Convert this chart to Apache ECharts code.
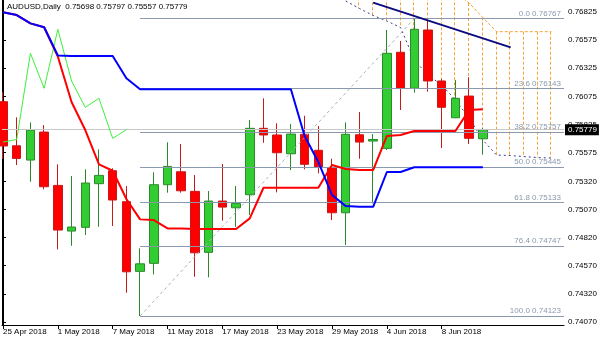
<!DOCTYPE html>
<html><head><meta charset="utf-8">
<script src="https://cdn.jsdelivr.net/npm/echarts@6/dist/echarts.min.js"></script>
<style>html,body{margin:0;padding:0;background:#fff}#c{width:600px;height:343px}</style>
</head><body><div id="c"></div>
<script>
const titleText = 'AUDUSD,Daily  0.75698 0.75797 0.75557 0.75779';
const dates = ['25 Apr 2018','26 Apr 2018','27 Apr 2018','30 Apr 2018','1 May 2018','2 May 2018','3 May 2018','4 May 2018',
  '7 May 2018','8 May 2018','9 May 2018','10 May 2018','11 May 2018','14 May 2018','15 May 2018','16 May 2018',
  '17 May 2018','18 May 2018','21 May 2018','22 May 2018','23 May 2018','24 May 2018','25 May 2018','28 May 2018',
  '29 May 2018','30 May 2018','31 May 2018','1 Jun 2018','4 Jun 2018','5 Jun 2018','6 Jun 2018','7 Jun 2018',
  '8 Jun 2018','11 Jun 2018','12 Jun 2018','13 Jun 2018'];
const opens  = [0.76028,0.75636,0.75509,0.75758,0.75284,0.74878,0.74911,0.75299,0.75414,0.75139,0.74520,0.74591,0.75290,0.75405,0.75231,0.74689,0.75145,0.75085,0.75201,0.75791,0.75732,0.75565,0.75738,0.75596,0.75444,0.75041,0.75734,0.75678,0.75613,0.76467,0.76147,0.76665,0.76212,0.75885,0.76078,0.75698];
const closes = [0.75634,0.75524,0.75776,0.75272,0.74887,0.74914,0.75305,0.75373,0.75154,0.74516,0.74587,0.75290,0.75453,0.75236,0.74685,0.75145,0.75091,0.75124,0.75791,0.75732,0.75574,0.75740,0.75471,0.75444,0.75041,0.75738,0.75669,0.75692,0.76458,0.76147,0.76671,0.76212,0.75978,0.76058,0.75702,0.75779];
const lows   = [0.75518,0.75465,0.75316,0.75249,0.74715,0.74747,0.74843,0.74916,0.74923,0.74330,0.74123,0.74493,0.75219,0.75219,0.74472,0.74467,0.74970,0.74916,0.75020,0.75663,0.75222,0.75420,0.75427,0.75391,0.74976,0.74754,0.75521,0.75124,0.75598,0.75954,0.76108,0.76117,0.75616,0.75882,0.75652,0.75557];
const highs  = [0.76114,0.75889,0.75844,0.75820,0.75471,0.75367,0.75427,0.75604,0.75436,0.75278,0.74724,0.75400,0.75667,0.75652,0.75376,0.75234,0.75474,0.75278,0.75865,0.76058,0.75836,0.75829,0.75903,0.75812,0.75521,0.75844,0.75936,0.75740,0.76665,0.76567,0.76767,0.76754,0.76229,0.76221,0.76245,0.75797];
const tenkan = [0.76822,0.76798,0.76724,0.76689,0.76429,0.76025,0.75776,0.75471,0.75414,0.75163,0.74982,0.74976,0.74902,0.74902,0.74896,0.74896,0.74896,0.74896,0.74991,0.75263,0.75263,0.75263,0.75263,0.75263,0.75465,0.75429,0.75420,0.75420,0.75723,0.75732,0.75767,0.75767,0.75767,0.75767,0.75954,0.75960];
const kijun  = [0.76822,0.76798,0.76724,0.76689,0.76438,0.76434,0.76434,0.76434,0.76434,0.76236,0.76138,0.76138,0.76138,0.76138,0.76138,0.76138,0.76138,0.76138,0.76138,0.76138,0.76138,0.76138,0.75723,0.75492,0.75198,0.75100,0.75094,0.75094,0.75403,0.75403,0.75445,0.75445,0.75445,0.75445,0.75445,0.75445];
const chikou = [0.75669,0.75692,0.76458,0.76147,0.76671,0.76212,0.75978,0.76058,0.75702,0.75779];
const spanStart = 25;
const spanA  = [0.77000,0.77000,0.77000,0.77000,0.77000,0.77000,0.77000,0.77000,0.77000,0.76905,0.76776,0.76650,0.76650,0.76650,0.76650,0.76650];
const spanB  = [0.76923,0.76856,0.76794,0.76745,0.76687,0.76398,0.76265,0.76176,0.76043,0.75883,0.75687,0.75554,0.75549,0.75540,0.75531,0.75527];
const fibLevels = ['0.0','23.6','38.2','50.0','61.8','76.4','100.0'];
const fibPrices = [0.76767,0.76143,0.75757,0.75445,0.75133,0.74747,0.74123];
const fibFrom = [10, 0.74123];
const fibTo = [30, 0.76767];
const trendLine = [[27.0, 0.76908],[37.03, 0.76511]];
const yTicks = [0.76825,0.76575,0.76325,0.76075,0.75825,0.75575,0.75320,0.75070,0.74820,0.74570,0.74320,0.74070];
const xTicks = [0,4,8,12,16,20,24,28,32];
const lastPrice = 0.75779;

const X_MIN = -0.073, X_MAX = 40.92;
const Y_MIN = 0.740433, Y_MAX = 0.769316;
const FONT = 'Liberation Sans';

const candleData = dates.map((d,i)=>[i, opens[i], closes[i], lows[i], highs[i]]);
const kumoData = [];
for (let k = 1; k < spanA.length; k++) kumoData.push([spanStart + k, spanA[k], spanB[k]]);

const chart = echarts.init(document.getElementById('c'), null, {renderer:'canvas'});
chart.setOption({
  animation: false,
  backgroundColor: '#fff',
  title: { text: titleText, left: 7, top: 3, padding: 0,
    textStyle: {fontFamily: FONT, fontSize: 8, fontWeight: 'normal', color: '#000'} },
  grid: { left: 2, right: 36, top: 0, bottom: 18 },
  xAxis: {
    type: 'value', min: X_MIN, max: X_MAX, splitLine: {show:false},
    axisLine: {show: true, onZero: false, lineStyle: {color:'#000', width:1}},
    axisTick: {show: true, customValues: xTicks, length: 4, lineStyle:{color:'#000'}},
    axisLabel: {customValues: xTicks, formatter: v => dates[Math.round(v)] || '', align: 'left', margin: 3,
      fontFamily: FONT, fontSize: 8, color: '#000'}
  },
  yAxis: [{
    type: 'value', position: 'right', min: Y_MIN, max: Y_MAX, scale: true, splitLine: {show:false},
    axisLine: {show: true, lineStyle: {color:'#000'}},
    axisTick: {show: true, customValues: yTicks, length: 3, lineStyle:{color:'#000'}},
    axisLabel: {customValues: yTicks, formatter: v => v.toFixed(5), margin: 4, fontFamily: FONT, fontSize: 8, color: '#000'}
  },{
    type: 'value', position: 'left', min: Y_MIN, max: Y_MAX, scale: true, splitLine: {show:false},
    axisLine: {show: true, lineStyle: {color:'#000'}}, axisTick: {show:false}, axisLabel: {show:false}
  }],
  series: [
    { type: 'line', data: [], z: 1, silent: true,
      markLine: { silent: true, symbol: ['none','none'], animation: false,
        data: fibPrices.map((p,i)=>[
          {coord:[fibFrom[0], p], lineStyle:{color:'#8a99ad', width:1, type:'solid'},
           label:{show:true, position:'insideEndTop', distance:[3,1], formatter: fibLevels[i] + ' ' + p.toFixed(5),
             color:'#8a99ad', fontFamily: FONT, fontSize: 8}},
          {coord:[X_MAX, p]}
        ]).concat([
          [{coord: fibFrom, lineStyle:{color:'#a8b2c0', width:1, type:[3,3]}, label:{show:false}}, {coord: fibTo}],
          [{coord:[X_MIN, lastPrice], lineStyle:{color:'#c8c8c8', width:1, type:'solid'},
            label:{show:true, position:'end', distance:1, formatter: lastPrice.toFixed(5), color:'#fff',
              backgroundColor:'#000', padding:[2,2,1,3], fontFamily: FONT, fontSize: 8}},
           {coord:[X_MAX, lastPrice]}]
        ])
      }
    },
    { type: 'custom', z: 2, clip: true, silent: true,
      data: kumoData, encode: {x: 0, y: [1, 2]},
      renderItem: function(params, api) {
        const x = api.value(0);
        const a = api.coord([x, api.value(1)]);
        const b = api.coord([x, api.value(2)]);
        const px = Math.round(a[0]) - 0.5;
        return {type:'line', shape:{x1:px, y1:a[1], x2:px, y2:b[1]},
          style:{stroke:'#F4A23C', lineWidth:1, lineDash:[3,2]}};
      }
    },
    { type: 'line', z: 3, silent: true, symbol: 'none', clip: true,
      data: spanA.map((v,k)=>[spanStart+k, v]),
      lineStyle: {color:'#F4A23C', width:1, type:[3,2]} },
    { type: 'line', z: 3, silent: true, symbol: 'none', clip: true,
      data: spanB.map((v,k)=>[spanStart+k, v]),
      lineStyle: {color:'#3b3b8f', width:1, type:[2,3]} },
    { type: 'candlestick', z: 4, silent: true, clip: true, barWidth: 9,
      data: candleData, encode: {x: 0, y: [1,2,3,4]},
      itemStyle: {color:'#32CD32', color0:'#FF0000', borderColor:'#2A8A2A', borderColor0:'#C81818', borderWidth:1} },
    { type: 'line', z: 5, silent: true, symbol: 'none', clip: true,
      data: chikou.map((v,i)=>[i, v]), lineStyle: {color:'#3CF03C', width:1} },
    { type: 'line', z: 5, silent: true, symbol: 'none', clip: true,
      data: tenkan.map((v,i)=>[i, v]), lineStyle: {color:'#FF0000', width:2} },
    { type: 'line', z: 6, silent: true, symbol: 'none', clip: true,
      data: kijun.map((v,i)=>[i, v]), lineStyle: {color:'#0000FF', width:2} },
    { type: 'line', z: 7, silent: true, symbol: 'none', clip: true,
      data: trendLine, lineStyle: {color:'#0A0A80', width:2} }
  ]
});
</script></body></html>
